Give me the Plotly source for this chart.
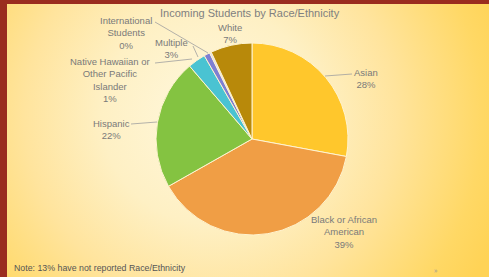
import base64
import plotly.graph_objects as go

# ---- data ----
categories = ["Asian", "Black or African American", "Hispanic", "Multiple",
              "Native Hawaiian or Other Pacific Islander", "International Students", "White"]
values = [28, 39, 22, 3, 1, 0.3, 7]
pct_labels = ["28%", "39%", "22%", "3%", "1%", "0%", "7%"]
colors = ["#FFC72C", "#F09E45", "#84C341", "#4AC3D2", "#7E7FD3", "#D8D4F0", "#B8890A"]

W, H = 489, 277

def px(x):
    return x / W

def py(y):
    return 1 - y / H

# background gradient (slide style)
svg = f'''<svg xmlns="http://www.w3.org/2000/svg" width="{W}" height="{H}">
<defs><radialGradient id="g" gradientUnits="userSpaceOnUse" cx="210" cy="115" r="310">
<stop offset="0" stop-color="#FFF8DE"/>
<stop offset="0.35" stop-color="#FEF0C4"/>
<stop offset="0.6" stop-color="#FFE49D"/>
<stop offset="0.88" stop-color="#FFD865"/>
<stop offset="1" stop-color="#FFD356"/>
</radialGradient></defs>
<rect width="{W}" height="{H}" fill="url(#g)"/></svg>'''
bg_src = "data:image/svg+xml;base64," + base64.b64encode(svg.encode()).decode()

cx, cy, r = 252, 139, 96

fig = go.Figure(go.Pie(
    labels=categories, values=values, sort=False, direction="clockwise", rotation=0,
    marker=dict(colors=colors, line=dict(color="#FFF4D0", width=1)),
    textinfo="none", hoverinfo="label+percent", showlegend=False,
    domain=dict(x=[px(cx - r), px(cx + r)], y=[py(cy + r), py(cy - r)]),
))

label_font = dict(family="Liberation Sans, Arial, sans-serif", size=9.5, color="#7A7A7A")
label_pos = {
    "International Students": (126, 33, "International<br>Students<br>"),
    "Multiple": (171, 48, "Multiple<br>"),
    "White": (230, 34, "White<br>"),
    "Native Hawaiian or Other Pacific Islander": (110, 80, "Native Hawaiian or<br>Other Pacific<br>Islander<br>"),
    "Hispanic": (111, 129, "Hispanic<br>"),
    "Asian": (366, 78, "Asian<br>"),
    "Black or African American": (344, 232, "Black or African<br>American<br>"),
}
annotations = []
for cat, pct in zip(categories, pct_labels):
    x, y, t = label_pos[cat]
    annotations.append(dict(x=px(x), y=py(y), xref="paper", yref="paper", text=t + pct,
                            showarrow=False, font=label_font, align="center",
                            xanchor="center", yanchor="middle"))

annotations.append(dict(x=px(250), y=py(13), xref="paper", yref="paper",
                        text="Incoming Students by Race/Ethnicity", showarrow=False,
                        font=dict(family="Liberation Sans, Arial, sans-serif", size=11, color="#808080"),
                        xanchor="center", yanchor="middle"))
annotations.append(dict(x=px(12), y=py(268), xref="paper", yref="paper",
                        text="Note: 13% have not reported Race/Ethnicity", showarrow=False,
                        font=dict(family="Liberation Sans, Arial, sans-serif", size=8.8, color="#555555"),
                        xanchor="left", yanchor="middle"))
annotations.append(dict(x=px(436), y=py(270), xref="paper", yref="paper", text="»",
                        showarrow=False, font=dict(size=7, color="#999999"),
                        xanchor="center", yanchor="middle"))

leader_lines = [((155, 22), (208, 53)), ((193, 46), (198, 57)), ((155, 63), (192, 59)),
                ((131, 124), (157, 122)), ((325, 76), (352, 74))]
shapes = []
for (x0, y0), (x1, y1) in leader_lines:
    shapes.append(dict(type="line", xref="paper", yref="paper", x0=px(x0), y0=py(y0),
                       x1=px(x1), y1=py(y1), line=dict(color="#A0A0A0", width=0.8)))
# slide border
shapes.append(dict(type="rect", xref="paper", yref="paper", x0=0, x1=px(7), y0=0, y1=1,
                   fillcolor="#9A2C1F", line=dict(width=0), layer="above"))
shapes.append(dict(type="rect", xref="paper", yref="paper", x0=0, x1=1, y0=py(4), y1=1,
                   fillcolor="#9A2C1F", line=dict(width=0), layer="above"))

fig.update_layout(
    width=W, height=H, margin=dict(l=0, r=0, t=0, b=0),
    paper_bgcolor="#FFE6A0", plot_bgcolor="rgba(0,0,0,0)",
    images=[dict(source=bg_src, xref="paper", yref="paper", x=0, y=1, sizex=1, sizey=1,
                 xanchor="left", yanchor="top", sizing="stretch", layer="below")],
    annotations=annotations, shapes=shapes,
)

fig.write_html("out.html", config={"displayModeBar": False},
               post_script="document.body.style.margin='0';document.body.style.overflow='hidden';")
